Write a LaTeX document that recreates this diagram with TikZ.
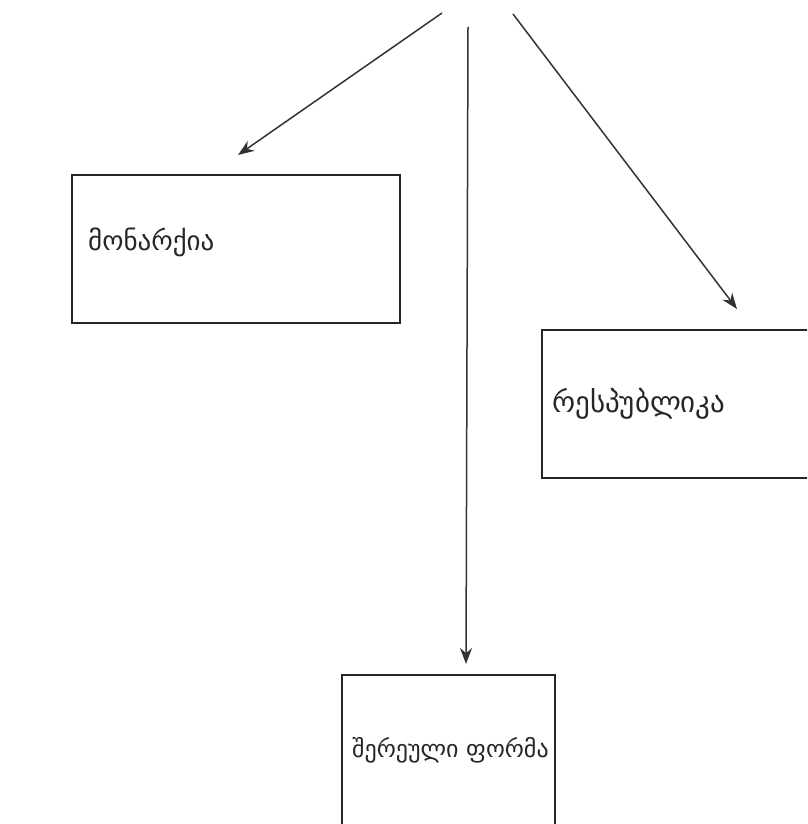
\documentclass[tikz,border=0pt]{standalone}
\usepackage{fontspec}
\newfontfamily\geofont{DejaVu Sans}
\usetikzlibrary{arrows.meta}
\begin{document}
\begin{tikzpicture}[x=1pt, y=-1pt,
            form/.style={rectangle, draw=black!85, line width=1.6pt, inner sep=0pt},
            label/.style={anchor=west, inner sep=0pt, text=black!85, font=\geofont\fontsize{#1}{#1}\selectfont},
            arrow/.style={draw=black!80, line width=1.5pt, -{Stealth[length=16pt, width=12pt]}}
    ]
        \useasboundingbox (0,0) rectangle (807,824);
        \clip (0,0) rectangle (807,824);

        % Forms of government
        \node[form, minimum width=328pt, minimum height=148pt] (monarchy) at (236,249) {};
        \node[form, minimum width=268pt, minimum height=148pt] (republic) at (676,404) {};
        \node[form, minimum width=213pt, minimum height=154pt] (mixed) at (448.5,752) {};

        % Labels
        \node[label=27] (monarchy_txt) at (88,242) {მონარქია};
        \node[label=29] (republic_txt) at (552,404) {რესპუბლიკა};
        \node[label=24] (mixed_txt) at (352,750) {შერეული ფორმა};

        % Arrow ends
        \coordinate (from_l) at (442,13);
        \coordinate (to_l) at (238,155);
        \coordinate (from_m) at (468,27);
        \coordinate (to_m) at (466,664);
        \coordinate (from_r) at (513,14);
        \coordinate (to_r) at (737,309);

        % Arrows
        \draw[arrow] (from_l) -- (to_l);
        \draw[arrow] (from_m) -- (to_m);
        \draw[arrow] (from_r) -- (to_r);

    \end{tikzpicture}
\end{document}
